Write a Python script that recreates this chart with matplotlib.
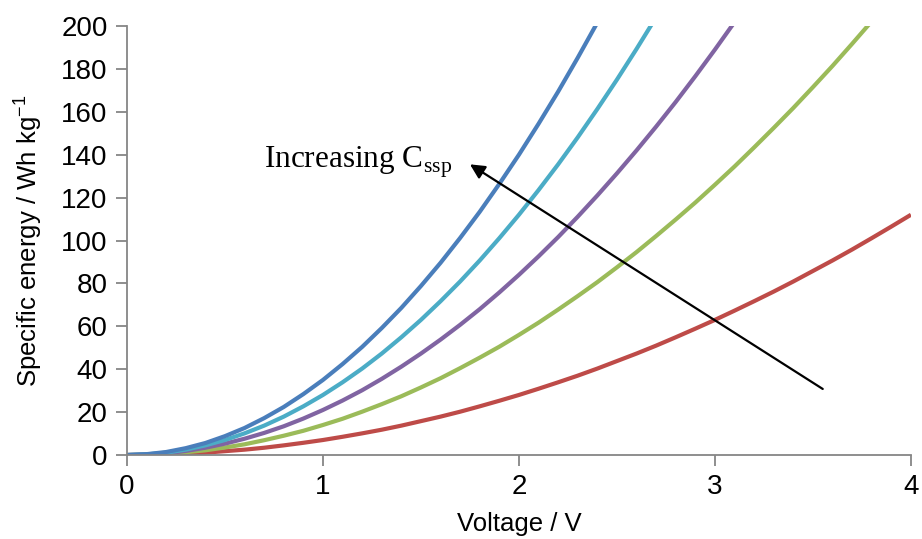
import numpy as np
import matplotlib
matplotlib.use("Agg")
import matplotlib.pyplot as plt

plt.rcParams['font.family'] = ['Liberation Sans', 'DejaVu Sans']

# voltage grid (V) and specific energy (Wh/kg)
volt = np.round(np.arange(0, 4.01, 0.1), 1)

e_blue = [0, 0.4, 1.4, 3.2, 5.6, 8.8, 12.6, 17.2, 22.4, 28.4, 35.0, 42.4, 50.4,
          59.2, 68.6, 78.8, 89.6, 101.2, 113.4, 126.4, 140.0, 154.4, 169.4,
          185.2, 201.6]
e_cyan = [0, 0.3, 1.1, 2.5, 4.5, 7.0, 10.1, 13.7, 17.9, 22.7, 28.0, 33.9, 40.3,
          47.3, 54.9, 63.0, 71.7, 80.9, 90.7, 101.1, 112.0, 123.5, 135.5,
          148.1, 161.3, 175.0, 189.3, 204.1]
e_purple = [0, 0.2, 0.8, 1.9, 3.4, 5.3, 7.6, 10.3, 13.4, 17.0, 21.0, 25.4, 30.2,
            35.5, 41.2, 47.3, 53.8, 60.7, 68.0, 75.8, 84.0, 92.6, 101.6, 111.1,
            121.0, 131.3, 142.0, 153.1, 164.6, 176.6, 189.0, 201.8]
e_green = [0, 0.1, 0.6, 1.3, 2.2, 3.5, 5.0, 6.9, 9.0, 11.3, 14.0, 16.9, 20.2,
           23.7, 27.4, 31.5, 35.8, 40.5, 45.4, 50.5, 56.0, 61.7, 67.8, 74.1,
           80.6, 87.5, 94.6, 102.1, 109.8, 117.7, 126.0, 134.5, 143.4, 152.5,
           161.8, 171.5, 181.4, 191.7, 202.2]
e_red = [0, 0.1, 0.3, 0.6, 1.1, 1.8, 2.5, 3.4, 4.5, 5.7, 7.0, 8.5, 10.1, 11.8,
         13.7, 15.8, 17.9, 20.2, 22.7, 25.3, 28.0, 30.9, 33.9, 37.0, 40.3, 43.8,
         47.3, 51.0, 54.9, 58.9, 63.0, 67.3, 71.7, 76.2, 80.9, 85.8, 90.7, 95.8,
         101.1, 106.5, 112.0]

series = [e_red, e_green, e_purple, e_cyan, e_blue]
colors = ['#BE4B48', '#9BBB59', '#8064A2', '#4BACC6', '#4A7EBB']

xticks = [0, 1, 2, 3, 4]
yticks = list(range(0, 201, 20))

fig = plt.figure(figsize=(9.22, 5.39), dpi=100)
ax = fig.add_axes([0.1377, 0.1558, 0.8503, 0.796])

for e, c in zip(series, colors):
    ax.plot(volt[:len(e)], e, color=c, lw=3, solid_capstyle='butt')

ax.set_xlim(0, 4)
ax.set_ylim(0, 200)
ax.set_xticks(xticks)
ax.set_yticks(yticks)

for s in ['top', 'right']:
    ax.spines[s].set_visible(False)
for s in ['left', 'bottom']:
    ax.spines[s].set_color('#868686')
    ax.spines[s].set_linewidth(1.3)
ax.tick_params(length=8, width=1.3, color='#868686', labelsize=20, pad=6)

ax.set_xlabel('Voltage / V', fontsize=18.5, labelpad=8)
ax.set_ylabel(r'Specific energy / Wh kg$^\mathregular{-1}$', fontsize=18.5,
              labelpad=12)

# arrow and note
ax.annotate('', xy=(1.75, 135.5), xytext=(3.55, 30.8),
            arrowprops=dict(arrowstyle='-|>', mutation_scale=22, lw=1.6,
                            color='black', shrinkA=0, shrinkB=0))
ax.text(0.70, 134, r'Increasing C$_\mathregular{ssp}$', fontsize=22.5,
        family=['Liberation Serif'], va='baseline')

fig.savefig('out.png', dpi=100)
